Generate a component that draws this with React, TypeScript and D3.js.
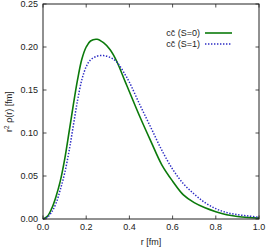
import * as d3 from "d3";
import { useEffect } from "react";

const WIDTH = 266;
const HEIGHT = 251;
const MARGIN = { top: 4, right: 7, bottom: 32, left: 43 };

// r [fm] sample points
const rValues = [
  0, 0.02, 0.04, 0.06, 0.08, 0.1, 0.12, 0.14, 0.16, 0.18, 0.2, 0.22, 0.25,
  0.28, 0.31, 0.34, 0.38, 0.4, 0.45, 0.5, 0.55, 0.6, 0.65, 0.7, 0.75, 0.8,
  0.85, 0.9, 0.95, 1.0,
];
const spin0 = [
  0, 0.003, 0.012, 0.026, 0.044, 0.069, 0.1, 0.132, 0.162, 0.186, 0.2, 0.207,
  0.209, 0.205, 0.197, 0.184, 0.16, 0.148, 0.118, 0.09, 0.063, 0.044, 0.028,
  0.019, 0.013, 0.0085, 0.005, 0.003, 0.0018, 0.001,
];
const spin1 = [
  0, 0.002, 0.008, 0.018, 0.034, 0.053, 0.078, 0.108, 0.138, 0.162, 0.177,
  0.185, 0.1893, 0.19, 0.188, 0.183, 0.168, 0.159, 0.132, 0.106, 0.08, 0.058,
  0.041, 0.029, 0.019, 0.012, 0.0075, 0.005, 0.0035, 0.002,
];
const xTicks = [0, 0.2, 0.4, 0.6, 0.8, 1.0];
const yTicks = [0, 0.05, 0.1, 0.15, 0.2, 0.25];
const seriesLabels = ["S=0", "S=1"];

const GREEN = "#0b7a0b";
const BLUE = "#2b2bc4";
const AXIS = "#222";
const FONT = "'Liberation Sans', Arial, sans-serif";

export default function App() {
  useEffect(() => {
    document.body.style.margin = "0";
  }, []);

  const x = d3
    .scaleLinear()
    .domain([0, 1])
    .range([MARGIN.left, WIDTH - MARGIN.right]);
  const y = d3
    .scaleLinear()
    .domain([0, 0.25])
    .range([HEIGHT - MARGIN.bottom, MARGIN.top]);

  const line = d3
    .line<number>()
    .x((_, i) => x(rValues[i]))
    .y((d) => y(d))
    .curve(d3.curveCatmullRom.alpha(0.5));

  const x0 = x(0);
  const x1 = x(1);
  const y0 = y(0);
  const y1 = y(0.25);
  const tickLen = 3.5;

  const series = [
    { values: spin0, color: GREEN, dash: undefined, width: 1.6 },
    { values: spin1, color: BLUE, dash: "1.4 1.6", width: 1.5 },
  ];

  return (
    <svg
      width={WIDTH}
      height={HEIGHT}
      style={{ display: "block", background: "#fff" }}
      fontFamily={FONT}
    >
      {/* curves */}
      <g fill="none">
        {series.map((s, i) => (
          <path
            key={i}
            d={line(s.values) ?? ""}
            stroke={s.color}
            strokeWidth={s.width}
            strokeDasharray={s.dash}
          />
        ))}
      </g>

      {/* frame */}
      <rect
        x={x0}
        y={y1}
        width={x1 - x0}
        height={y0 - y1}
        fill="none"
        stroke={AXIS}
        strokeWidth={1}
      />

      {/* ticks, mirrored on top and right */}
      <g stroke={AXIS} strokeWidth={0.8}>
        {xTicks.map((t) => (
          <g key={t}>
            <line x1={x(t)} x2={x(t)} y1={y0} y2={y0 - tickLen} />
            <line x1={x(t)} x2={x(t)} y1={y1} y2={y1 + tickLen} />
          </g>
        ))}
        {yTicks.map((t) => (
          <g key={t}>
            <line x1={x0} x2={x0 + tickLen} y1={y(t)} y2={y(t)} />
            <line x1={x1} x2={x1 - tickLen} y1={y(t)} y2={y(t)} />
          </g>
        ))}
      </g>

      <g fontSize={9} fill="#222">
        {xTicks.map((t) => (
          <text key={t} x={x(t)} y={y0 + 11} textAnchor="middle">
            {d3.format(".1f")(t)}
          </text>
        ))}
        {yTicks.map((t) => (
          <text
            key={t}
            x={x0 - 5}
            y={y(t)}
            textAnchor="end"
            dominantBaseline="central"
          >
            {d3.format(".2f")(t)}
          </text>
        ))}
      </g>

      {/* axis titles */}
      <text
        x={(x0 + x1) / 2}
        y={245}
        textAnchor="middle"
        fontSize={9}
        fill="#222"
      >
        r [fm]
      </text>
      <text
        transform={`translate(12,${(y0 + y1) / 2}) rotate(-90)`}
        textAnchor="middle"
        fontSize={9}
        fill="#222"
      >
        r
        <tspan dy={-3.5} fontSize={6.5}>
          2
        </tspan>
        <tspan dy={3.5}> ρ(r) [fm]</tspan>
      </text>

      {/* legend */}
      <g fontSize={9} fill="#222">
        {series.map((s, i) => {
          const ly = 33 + i * 11;
          return (
            <g key={i}>
              <text x={200} y={ly} textAnchor="end" dominantBaseline="central">
                cc{"\u0304"} ({seriesLabels[i]})
              </text>
              <line
                x1={205}
                x2={232}
                y1={ly}
                y2={ly}
                stroke={s.color}
                strokeWidth={s.width}
                strokeDasharray={s.dash}
              />
            </g>
          );
        })}
      </g>
    </svg>
  );
}
